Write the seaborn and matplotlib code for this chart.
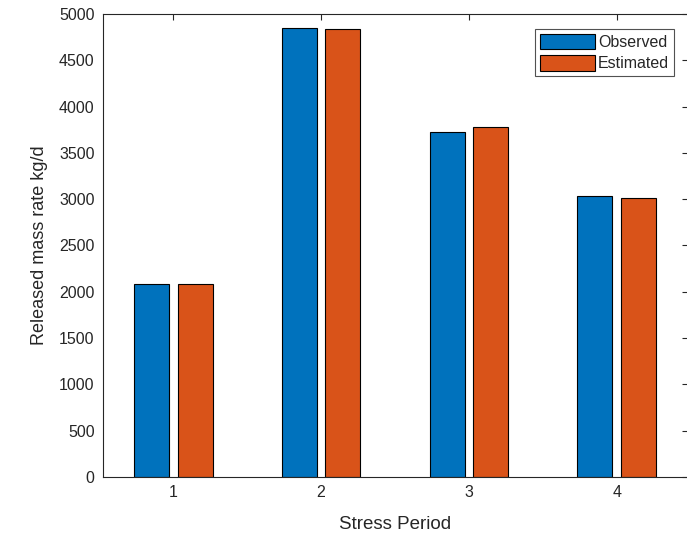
import matplotlib
matplotlib.use("Agg")
import matplotlib.pyplot as plt
import seaborn as sns
import pandas as pd

# Released mass rate per stress period
periods = ["1", "2", "3", "4"]
observed = [2080, 4845, 3720, 3034]
estimated = [2080, 4835, 3774, 3016]
series_names = ["Observed", "Estimated"]
y_ticks = [0, 500, 1000, 1500, 2000, 2500, 3000, 3500, 4000, 4500, 5000]

df = pd.DataFrame({
    "period": periods * 2,
    "rate": observed + estimated,
    "series": [series_names[0]] * len(periods) + [series_names[1]] * len(periods),
})

sns.set_theme(style="white")
plt.rcParams["font.family"] = ["Liberation Sans", "DejaVu Sans"]

fig = plt.figure(figsize=(6.87, 5.33), dpi=100)
ax = fig.add_axes([0.1499, 0.1051, 0.8515, 0.8687])

text_col = "#262626"
sns.barplot(data=df, x="period", y="rate", hue="series",
            palette=["#0072BD", "#D95319"], width=0.59, gap=0.2,
            edgecolor="black", linewidth=0.8, ax=ax, saturation=1)

ax.set_xlim(-0.4757, 3.482)
ax.set_ylim(0, 5000)
ax.set_yticks(y_ticks)
ax.set_xticks(range(len(periods)))
ax.set_xticklabels(periods)

ax.tick_params(axis="both", which="both", direction="in", length=4.5, width=0.8,
               colors="#262626", labelsize=11.5, top=True, right=True,
               labelcolor=text_col, pad=6)
for side in ["left", "bottom", "top", "right"]:
    ax.spines[side].set_visible(True)
    ax.spines[side].set_color("#262626")
    ax.spines[side].set_linewidth(0.8)

ax.set_xlabel("Stress Period", fontsize=13.5, color=text_col, labelpad=11)
ax.set_ylabel("Released mass rate kg/d", fontsize=13, color=text_col, labelpad=8)

leg = ax.legend(loc="upper right", bbox_to_anchor=(0.976, 0.968), fontsize=11.5,
                handlelength=3.44, handleheight=1.1, handletextpad=0.2,
                borderpad=0.3, labelspacing=0.35, borderaxespad=0.0,
                frameon=True, fancybox=False, title=None)
leg.get_frame().set_edgecolor("#262626")
leg.get_frame().set_linewidth(0.8)

fig.savefig("out.png", dpi=100)
